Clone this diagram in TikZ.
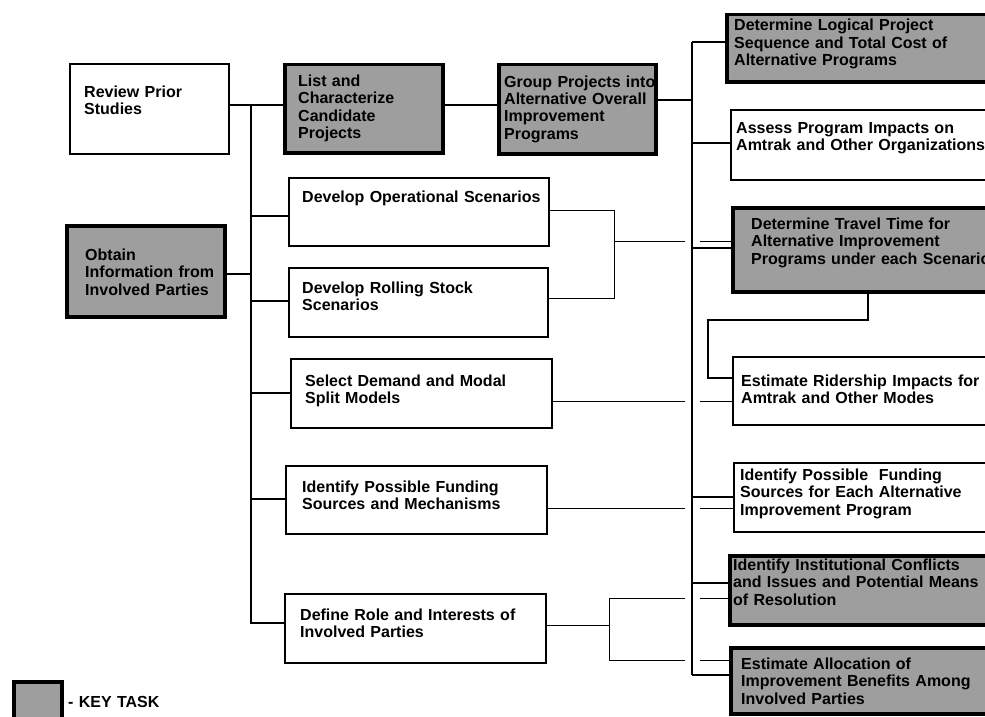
\documentclass[tikz,border=0pt]{standalone}
\usepackage{fontspec}
\setmainfont{Liberation Sans}
\usetikzlibrary{backgrounds}
\begin{document}
\begin{tikzpicture}[x=1pt,y=-1pt,
  wbox/.style={draw, line width=1.8pt, fill=white, inner sep=0pt, anchor=north west},
  kbox/.style={draw, line width=3.5pt, fill=black!38, inner sep=0pt, anchor=north west},
  txt/.style={inner sep=0pt, anchor=base west, text width=320pt, align=left, font=\bfseries\fontsize{16}{17.5}\selectfont},
  bus/.style={line width=1.8pt},
  thin/.style={line width=1pt},
  link/.style={line width=1.4pt}]
\useasboundingbox (0,0) rectangle (985,717);
% boxes
\node[wbox, minimum width=159, minimum height=90] (rps) at (69,63) {};
\node[kbox, minimum width=158, minimum height=88] (lcc) at (283,63) {};
\node[kbox, minimum width=157, minimum height=89] (gpa) at (497,63) {};
\node[kbox, minimum width=158, minimum height=91] (obt) at (65,224) {};
\node[wbox, minimum width=260, minimum height=68] (dos) at (288,177) {};
\node[wbox, minimum width=259, minimum height=69] (drs) at (288,267) {};
\node[wbox, minimum width=261, minimum height=69] (sdm) at (290,358) {};
\node[wbox, minimum width=261, minimum height=68] (ifm) at (285,465) {};
\node[wbox, minimum width=261, minimum height=69] (dri) at (284,593) {};
\node[kbox, minimum width=270, minimum height=67] (dlp) at (725,13) {};
\node[wbox, minimum width=265, minimum height=70] (apo) at (730,109) {};
\node[kbox, minimum width=265, minimum height=84] (dtt) at (731,206) {};
\node[wbox, minimum width=265, minimum height=68] (eri) at (732,356) {};
\node[wbox, minimum width=265, minimum height=69] (ife) at (733,462) {};
\node[kbox, minimum width=265, minimum height=69] (iic) at (728,554) {};
\node[kbox, minimum width=265, minimum height=66] (eab) at (729,646) {};
\node[kbox, minimum width=48, minimum height=52] (leg) at (12,680) {};
% texts
\node[txt] (trps) at (84,97) {Review Prior\\Studies};
\node[txt] (tlcc) at (298,86) {List and\\Characterize\\Candidate\\Projects};
\node[txt] (tgpa) at (504,87) {Group Projects into\\Alternative Overall\\Improvement\\Programs};
\node[txt] (tobt) at (85,260) {Obtain\\Information from\\Involved Parties};
\node[txt] (tdos) at (302,202) {Develop Operational Scenarios};
\node[txt] (tdrs) at (302,293) {Develop Rolling Stock\\Scenarios};
\node[txt] (tsdm) at (305,386) {Select Demand and Modal\\Split Models};
\node[txt] (tifm) at (302,492) {Identify Possible Funding\\Sources and Mechanisms};
\node[txt] (tdri) at (300,620) {Define Role and Interests of\\Involved Parties};
\node[txt] (tdlp) at (734,31) {Determine Logical Project\\Sequence and Total Cost of\\Alternative Programs};
\node[txt] (tapo) at (736,133) {Assess Program Impacts on\\Amtrak and Other Organizations};
\node[txt] (tdtt) at (751,229) {Determine Travel Time for\\Alternative Improvement\\Programs under each Scenario};
\node[txt] (teri) at (741,386) {Estimate Ridership Impacts for\\Amtrak and Other Modes};
\node[txt] (tife) at (740,480) {Identify Possible\ \ Funding\\Sources for Each Alternative\\Improvement Program};
\node[txt] (tiic) at (733,570) {Identify Institutional Conflicts\\and Issues and Potential Means\\of Resolution};
\node[txt] (teab) at (741,669) {Estimate Allocation of\\Improvement Benefits Among\\Involved Parties};
\node[txt] (tkey) at (68,707) {- KEY TASK};
% bus coordinates
\coordinate (lbT) at (251,105);
\coordinate (lbB) at (251,623);
\coordinate (rbT) at (692,42);
\coordinate (rbG) at (692,100);
\coordinate (rbB) at (692,675);
\begin{scope}[on background layer]
  \fill[white] (0,0) rectangle (985,717);
  % crossing (thin) connectors
  \draw[thin] (dos.east |- 0,210) -| (614,298) -- (drs.east |- 0,298);
  \draw[thin] (614,241) -- (dtt.west |- 0,241);
  \draw[link] (dtt.south -| 868,0) -- (868,320) -- (708,320) -- (708,378) -- (eri.west |- 0,378);
  \draw[thin] (sdm.east |- 0,401) -- (eri.west |- 0,401);
  \draw[thin] (ifm.east |- 0,508) -- (ife.west |- 0,508);
  \draw[thin] (dri.east |- 0,625) -- (609,625);
  \draw[thin] (iic.west |- 0,598) -| (609,660) -- (eab.west |- 0,660);
  % right bus with white halo where lines cross
  \draw[bus, preaction={draw=white, line width=15pt}] (rbT) -- (rbB);
  \draw[bus] (dlp.west |- rbT) -- (rbT);
  \draw[bus] (rbB) -- (eab.west |- rbB);
  \draw[bus] (gpa.east |- rbG) -- (rbG);
  \draw[bus] (rbT |- 0,143) -- (apo.west |- 0,143);
  \draw[bus] (rbT |- 0,248) -- (dtt.west |- 0,248);
  \draw[bus] (rbT |- 0,497) -- (ife.west |- 0,497);
  \draw[bus] (rbT |- 0,583) -- (iic.west |- 0,583);
  % left bus
  \draw[bus] (rps.east |- lbT) -- (lcc.west |- lbT);
  \draw[bus] (lcc.east |- 0,105) -- (gpa.west |- 0,105);
  \draw[bus] (lbT) -- (lbB) -- (dri.west |- lbB);
  \draw[bus] (lbT |- 0,216) -- (dos.west |- 0,216);
  \draw[bus] (obt.east |- 0,274) -- (lbT |- 0,274);
  \draw[bus] (lbT |- 0,301) -- (drs.west |- 0,301);
  \draw[bus] (lbT |- 0,393) -- (sdm.west |- 0,393);
  \draw[bus] (lbT |- 0,499) -- (ifm.west |- 0,499);
\end{scope}
\end{tikzpicture}
\end{document}
